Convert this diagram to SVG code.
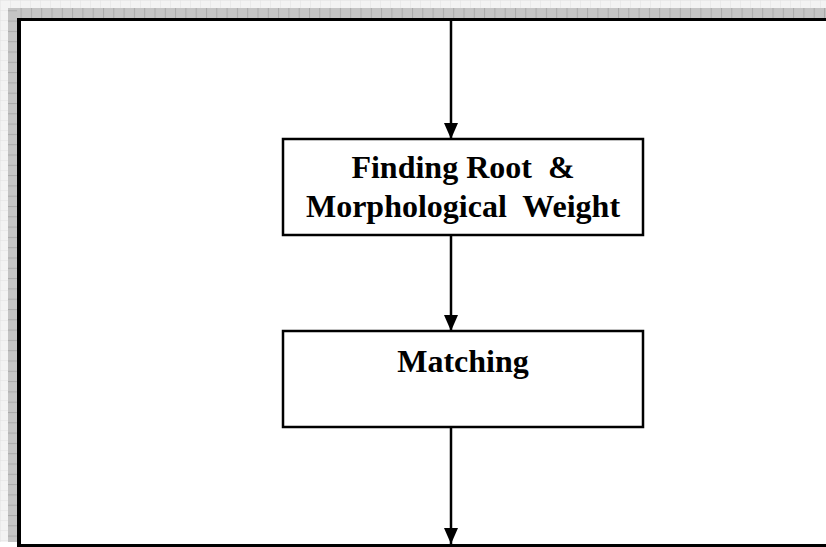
<svg xmlns="http://www.w3.org/2000/svg" width="826" height="547" viewBox="0 0 826 547">
<defs>
<style>
.box{fill:#fff;stroke:#000;stroke-width:2.5}
.lbl{font-family:"Liberation Serif","Times New Roman",serif;font-weight:bold;font-size:32px;fill:#000;text-anchor:middle;white-space:pre}
.conn{stroke:#000;stroke-width:2.5;fill:none}
</style>
<marker id="ah" markerWidth="16" markerHeight="14" refX="16" refY="7" orient="auto" markerUnits="userSpaceOnUse">
<path d="M0,0 L16,7 L0,14 Z" fill="#000"/>
</marker>
<pattern id="lightGrid" width="10" height="10" patternUnits="userSpaceOnUse">
<rect width="10" height="10" fill="#f3f3f3"/>
<path d="M0,0 H10 M0,0 V10" stroke="#e2e2e2" stroke-width="1"/>
</pattern>
<pattern id="darkGridH" width="10.3" height="10" patternUnits="userSpaceOnUse">
<rect width="10.3" height="10" fill="#c4c4c4"/>
<path d="M0.5,0 V10" stroke="#a9a9a9" stroke-width="1"/>
</pattern>
<pattern id="darkGridV" width="10" height="10.3" patternUnits="userSpaceOnUse">
<rect width="10" height="10.3" fill="#c4c4c4"/>
<path d="M0,0.5 H10" stroke="#a9a9a9" stroke-width="1"/>
</pattern>
</defs>
<rect width="826" height="547" fill="#fff"/>
<g id="frame">
<rect x="0" y="0" width="826" height="8" fill="url(#lightGrid)"/>
<rect x="0" y="0" width="8" height="542" fill="url(#lightGrid)"/>
<rect x="8" y="8" width="818" height="10" fill="url(#darkGridH)"/>
<rect x="8" y="8" width="9" height="534" fill="url(#darkGridV)"/>
<rect x="17" y="18" width="809" height="3" fill="#000"/>
<rect x="17" y="18" width="4" height="529" fill="#000"/>
<rect x="17" y="544" width="809" height="3" fill="#000"/>
</g>
<g id="connectors">
<line class="conn" x1="451" y1="21" x2="451" y2="139" marker-end="url(#ah)"/>
<line class="conn" x1="451" y1="235" x2="451" y2="331" marker-end="url(#ah)"/>
<line class="conn" x1="451" y1="427" x2="451" y2="544" marker-end="url(#ah)"/>
</g>
<g id="node1">
<rect class="box" x="283" y="139" width="360" height="96"/>
<text class="lbl" x="463" y="178" xml:space="preserve">Finding Root  &amp;</text>
<text class="lbl" x="463" y="217" xml:space="preserve">Morphological  Weight</text>
</g>
<g id="node2">
<rect class="box" x="283" y="331" width="360" height="96"/>
<text class="lbl" x="463" y="372">Matching</text>
</g>
</svg>
